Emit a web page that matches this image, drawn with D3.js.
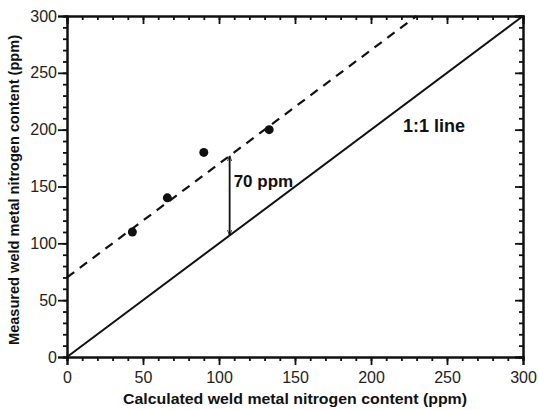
<!DOCTYPE html>
<html>
<head>
<meta charset="utf-8">
<script src="https://d3js.org/d3.v7.min.js"></script>
<style>
  body { margin: 0; background: #fff; }
  text { font-family: "Liberation Sans", Arial, sans-serif; }
</style>
</head>
<body>
<div id="chart"></div>
<script>
// data
const measuredX = [43, 66, 90, 133];
const measuredY = [110, 140, 180, 200];
const offset = 70;          // dashed line = 1:1 line + 70 ppm
const arrowAt = 107;        // x where the 70 ppm arrow sits
const tickValues = [0, 50, 100, 150, 200, 250, 300];
const xTitle = "Calculated weld metal nitrogen content (ppm)";
const yTitle = "Measured weld metal nitrogen content (ppm)";

const margin = {top: 16, right: 16, bottom: 53, left: 67},
width = 539 - margin.left - margin.right,
height = 410 - margin.top - margin.bottom;

const svg = d3.select("#chart")
    .append("svg")
    .attr("width", 539)
    .attr("height", 410)
    .append("g")
    .attr("transform", `translate(${margin.left},${margin.top})`);

const x = d3.scaleLinear().domain([0, 300]).range([0, width]);
const y = d3.scaleLinear().domain([0, 300]).range([height, 0]);

const minor = d3.range(0, 301, 10);

function styleAxis(g) {
    g.select(".domain").attr("stroke", "#111").attr("stroke-width", 2);
    g.selectAll(".tick line").attr("stroke", "#111").attr("stroke-width", 1.8);
}

// minor ticks (all sides), then major ones
svg.append("g").attr("transform", `translate(0,${height})`)
    .call(d3.axisBottom(x).tickValues(minor).tickSize(4).tickFormat(""))
    .call(styleAxis);
svg.append("g").attr("transform", `translate(0,${height})`)
    .call(d3.axisBottom(x).tickValues(tickValues).tickSize(8).tickPadding(7))
    .call(styleAxis)
    .selectAll("text").attr("font-size", 16).attr("fill", "#222");

svg.append("g")
    .call(d3.axisLeft(y).tickValues(minor).tickSize(4).tickFormat(""))
    .call(styleAxis);
svg.append("g")
    .call(d3.axisLeft(y).tickValues(tickValues).tickSize(9).tickPadding(1))
    .call(styleAxis)
    .selectAll("text").attr("font-size", 16).attr("fill", "#222");

// mirrored top and right, ticks pointing in
svg.append("g")
    .call(d3.axisBottom(x).tickValues(minor).tickSize(4).tickFormat(""))
    .call(styleAxis);
svg.append("g")
    .call(d3.axisBottom(x).tickValues(tickValues).tickSize(8).tickFormat(""))
    .call(styleAxis);
svg.append("g").attr("transform", `translate(${width},0)`)
    .call(d3.axisLeft(y).tickValues(minor).tickSize(4).tickFormat(""))
    .call(styleAxis);
svg.append("g").attr("transform", `translate(${width},0)`)
    .call(d3.axisLeft(y).tickValues(tickValues).tickSize(8).tickFormat(""))
    .call(styleAxis);

// 1:1 line
svg.append("line")
    .attr("x1", x(0)).attr("y1", y(0))
    .attr("x2", x(300)).attr("y2", y(300))
    .attr("stroke", "#111").attr("stroke-width", 2);

// dashed offset line
svg.append("line")
    .attr("x1", x(0)).attr("y1", y(offset))
    .attr("x2", x(300 - offset)).attr("y2", y(300))
    .attr("stroke", "#111").attr("stroke-width", 2.2)
    .attr("stroke-dasharray", "9,7");

// 70 ppm arrow
svg.append("defs").selectAll("marker")
    .data(["start", "end"])
    .join("marker")
    .attr("id", d => "arr-" + d)
    .attr("viewBox", "0 0 10 10")
    .attr("refX", 10).attr("refY", 5)
    .attr("markerWidth", 3).attr("markerHeight", 3)
    .attr("orient", "auto-start-reverse")
    .append("path").attr("d", "M0,1L10,5L0,9").attr("fill", "none")
    .attr("stroke", "#111").attr("stroke-width", 1.5);

svg.append("line")
    .attr("x1", x(arrowAt)).attr("y1", y(arrowAt + offset))
    .attr("x2", x(arrowAt)).attr("y2", y(arrowAt))
    .attr("stroke", "#111").attr("stroke-width", 1.8)
    .attr("marker-start", "url(#arr-start)")
    .attr("marker-end", "url(#arr-end)");

svg.append("text")
    .attr("x", x(arrowAt) + 4).attr("y", y(arrowAt + 43))
    .attr("font-size", 17).attr("font-weight", "bold").attr("fill", "#111")
    .text(offset + " ppm");

svg.append("text")
    .attr("x", x(221)).attr("y", y(198))
    .attr("font-size", 18).attr("font-weight", "bold").attr("fill", "#111")
    .text("1:1 line");

// measured points
svg.selectAll("circle")
    .data(measuredX)
    .join("circle")
    .attr("cx", d => x(d))
    .attr("cy", (d, i) => y(measuredY[i]))
    .attr("r", 4.5)
    .attr("fill", "#111");

// titles
svg.append("text")
    .attr("x", (123 + 467) / 2 - margin.left).attr("y", height + 47)
    .attr("text-anchor", "middle")
    .attr("font-size", 14).attr("font-weight", "bold").attr("fill", "#111")
    .attr("textLength", 344).attr("lengthAdjust", "spacingAndGlyphs")
    .text(xTitle);

svg.append("text")
    .attr("transform", `translate(${19 - margin.left},${190 - margin.top}) rotate(-90)`)
    .attr("text-anchor", "middle")
    .attr("font-size", 14).attr("font-weight", "bold").attr("fill", "#111")
    .attr("textLength", 310).attr("lengthAdjust", "spacingAndGlyphs")
    .text(yTitle);
</script>
</body>
</html>
